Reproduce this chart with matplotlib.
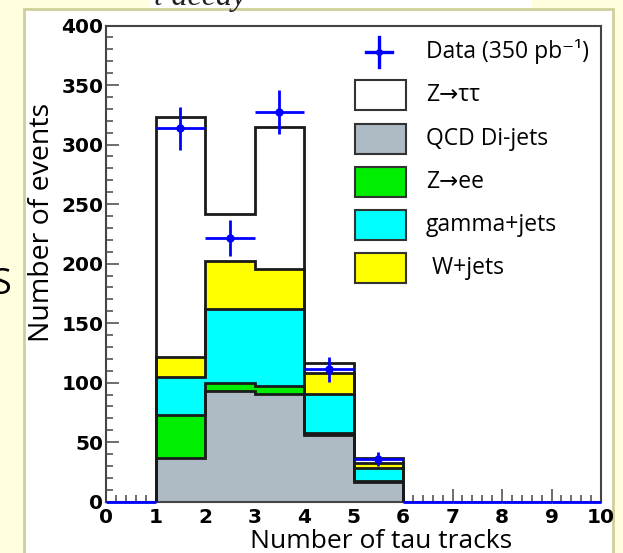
import matplotlib
matplotlib.use("Agg")
import matplotlib.pyplot as plt
from matplotlib.patches import Rectangle
from matplotlib.lines import Line2D
import numpy as np

# ---- data ----
edges = [1, 2, 3, 4, 5, 6]
qcd = [36.5, 93.0, 90.5, 56.0, 16.8]
zee = [36.4, 7.0, 6.7, 1.5, 0.5]
gamma = [32.1, 61.7, 64.5, 33.0, 10.8]
wjets = [16.3, 40.8, 33.6, 17.4, 4.2]
ztautau = [201.7, 39.3, 119.3, 8.4, 4.2]

data_x = [0.5, 1.5, 2.5, 3.5, 4.5, 5.5, 6.5, 7.5, 8.5, 9.5]
data_y = [0, 313.8, 221.3, 327.2, 111.3, 35.6, 0, 0, 0, 0]
data_err = [0, 18, 15, 18.5, 10.5, 6, 0, 0, 0, 0]

labels = ["Data (350 pb\u207b\u00b9)", "Z\u2192\u03c4\u03c4", "QCD Di-jets", "Z\u2192ee", "gamma+jets", " W+jets"]
colors = {"ztt": "white", "qcd": "#AEBBC4", "zee": "#00EE00", "gam": "#00FFFF", "w": "#FFFF00"}

FAM = ["Open Sans", "DejaVu Sans"]

W, H = 623, 553
fig = plt.figure(figsize=(W / 100, H / 100), dpi=100, facecolor="#FFFFE0")

# white framed panel
fig.patches.append(Rectangle((24 / W, -0.05), (613 - 24) / W, 1.05 - 9 / H,
                             transform=fig.transFigure, facecolor="white",
                             edgecolor="#CFCF9C", lw=2, zorder=-5))
# white top box with clipped title text
fig.patches.append(Rectangle((150 / W, 1 - 8 / H), (532 - 150) / W, 8 / H + 0.01,
                             transform=fig.transFigure, facecolor="white",
                             edgecolor="none", zorder=-5))
fig.text(152 / W, 1 - 5 / H, "\u03c4 decay", family=["Liberation Serif", "DejaVu Serif"], style="italic",
         fontsize=23, ha="left", va="baseline", color="#222222")
fig.text(11 / W, 1 - 285 / H, "S", family=FAM, fontsize=26,
         ha="right", va="center", color="black")

ax = fig.add_axes([106 / W, 1 - 501.7 / H, (601 - 106) / W, (501.7 - 25.5) / H], zorder=2)
ax.set_facecolor("white")
ax.set_xlim(0, 10)
ax.set_ylim(0, 400)

c1 = np.array(qcd)
c2 = c1 + np.array(zee)
c3 = c2 + np.array(gamma)
c4 = c3 + np.array(wjets)
c5 = c4 + np.array(ztautau)

lw = 2.0
ec = "#1a1a1a"
for vals, col in [(c5, colors["ztt"]), (c4, colors["w"]), (c3, colors["gam"]),
                  (c2, colors["zee"]), (c1, colors["qcd"])]:
    ax.stairs(vals, edges, baseline=0, fill=True, facecolor=col, edgecolor="none", zorder=2)
    ax.stairs(vals, edges, baseline=0, fill=False, color=ec, lw=lw, zorder=3)

# data
ax.errorbar(data_x, data_y, xerr=0.5, yerr=data_err, fmt="none", ecolor="#0000FF",
            elinewidth=2, capsize=0, zorder=5, clip_on=False)
mask = [y > 0 for y in data_y]
ax.plot([x for x, m in zip(data_x, mask) if m], [y for y, m in zip(data_y, mask) if m],
        "o", color="#0000FF", ms=5, zorder=6)

# axes styling
for s in ax.spines.values():
    s.set_color("#444444")
    s.set_linewidth(1.5)
ax.set_xticks(np.arange(0, 11, 1))
ax.set_xticks(np.arange(0, 10.01, 0.2), minor=True)
ax.set_yticks(np.arange(0, 401, 50))
ax.set_yticks(np.arange(0, 401, 10), minor=True)
ax.tick_params(which="both", direction="in", top=False, right=False, color="#555555", width=1.2)
ax.tick_params(which="major", length=9.5, labelsize=14.5)
ax.tick_params(which="minor", length=5)
ax.tick_params(axis="x", which="major", pad=4.5)
ax.tick_params(axis="y", which="major", pad=2)
for lab in ax.get_xticklabels() + ax.get_yticklabels():
    lab.set_fontweight("bold")
    lab.set_family("DejaVu Sans")

ax.set_xlabel("Number of tau tracks", family=FAM, fontsize=19)
ax.set_ylabel("Number of events", family=FAM, fontsize=20.5)
ax.xaxis.set_label_coords(0.556, -0.057)
ax.yaxis.set_label_coords(-0.102, 0.587)

# legend (manual)
rows = [52, 95, 139, 182, 225, 268]
fills = [None, colors["ztt"], colors["qcd"], colors["zee"], colors["gam"], colors["w"]]
for ry, lab, fc in zip(rows, labels, fills):
    yf = 1 - ry / H
    if fc is None:
        fig.add_artist(Line2D([366 / W, 392 / W], [yf, yf], color="#0000FF", lw=2.4, zorder=7))
        fig.add_artist(Line2D([379 / W, 379 / W], [yf - 15 / H, yf + 15 / H], color="#0000FF", lw=2.4, zorder=7))
        fig.add_artist(Line2D([379 / W], [yf], marker="o", color="#0000FF", ms=4, zorder=7))
    else:
        fig.patches.append(Rectangle((355 / W, yf - 15 / H), 51 / W, 30 / H, transform=fig.transFigure,
                                     facecolor=fc, edgecolor="#333333", lw=1.5, zorder=7))
    fig.text(426 / W, yf, lab, family=FAM, fontsize=16.5, ha="left", va="center", zorder=8)

fig.savefig("out.png", dpi=100, facecolor=fig.get_facecolor())
